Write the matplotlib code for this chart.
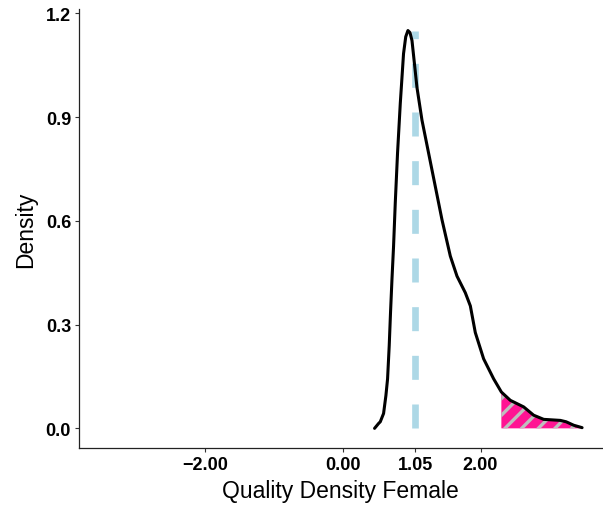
import matplotlib

matplotlib.use("Agg")
import matplotlib.pyplot as plt
import numpy as np

plt.rcParams["font.family"] = ["Liberation Sans", "DejaVu Sans"]
plt.rcParams["hatch.linewidth"] = 2.4

# density curve
quality = [0.460, 0.518, 0.543, 0.591, 0.625, 0.649, 0.673, 0.692, 0.713, 0.736,
           0.761, 0.794, 0.834, 0.881, 0.913, 0.945, 0.975, 1.004, 1.076, 1.149,
           1.245, 1.343, 1.440, 1.561, 1.658, 1.779, 1.852, 1.924, 2.045, 2.191,
           2.303, 2.433, 2.627, 2.772, 2.918, 3.160, 3.244, 3.354, 3.476]
density = [0.000, 0.014, 0.019, 0.043, 0.095, 0.143, 0.239, 0.335, 0.431, 0.526,
           0.652, 0.796, 0.940, 1.083, 1.132, 1.150, 1.144, 1.121, 0.986, 0.891,
           0.796, 0.699, 0.603, 0.498, 0.440, 0.392, 0.354, 0.277, 0.201, 0.143,
           0.105, 0.081, 0.062, 0.038, 0.026, 0.023, 0.019, 0.009, 0.002]

mean_quality = 1.05
tail_start = 2.30

x_ticks = [-2.0, 0.0, 1.05, 2.0]
x_ticklabels = ["\u22122.00", "0.00", "1.05", "2.00"]
y_ticks = [0.0, 0.3, 0.6, 0.9, 1.2]
y_ticklabels = ["0.0", "0.3", "0.6", "0.9", "1.2"]

q = np.array(quality)
d = np.array(density)

fig = plt.figure(figsize=(6.03, 5.10), dpi=100)
ax = fig.add_axes([0.1305, 0.119, 0.8695, 0.861])

# shaded upper tail, pink with grey stripes
tail = q >= tail_start
ax.fill_between(q[tail], 0, d[tail], facecolor="#FF1493", edgecolor="#BEBEBE",
                hatch="//", linewidth=0, zorder=1)
ax.plot([mean_quality, mean_quality], [0, d.max()], color="#ADD8E6",
        linewidth=4.8, dashes=(3.6, 3.7), dash_capstyle="butt", zorder=2)
ax.plot(q, d, color="black", linewidth=2.2, solid_joinstyle="round",
        solid_capstyle="round", zorder=3)

ax.set_xlim(-3.84, 3.78)
ax.set_ylim(-0.0577, 1.2117)
ax.set_xticks(x_ticks, x_ticklabels)
ax.set_yticks(y_ticks, y_ticklabels)
ax.tick_params(length=3, width=0.8, color="#333333", labelsize=13, pad=2.5)
for lab in ax.get_xticklabels() + ax.get_yticklabels():
    lab.set_fontweight("bold")
for s in ["top", "right"]:
    ax.spines[s].set_visible(False)
for s in ["left", "bottom"]:
    ax.spines[s].set_linewidth(0.9)
    ax.spines[s].set_color("#222222")

ax.set_xlabel("Quality Density Female", fontsize=16.5, labelpad=4)
ax.set_ylabel("Density", fontsize=16.5, labelpad=6)

fig.savefig("out.png", dpi=100)
